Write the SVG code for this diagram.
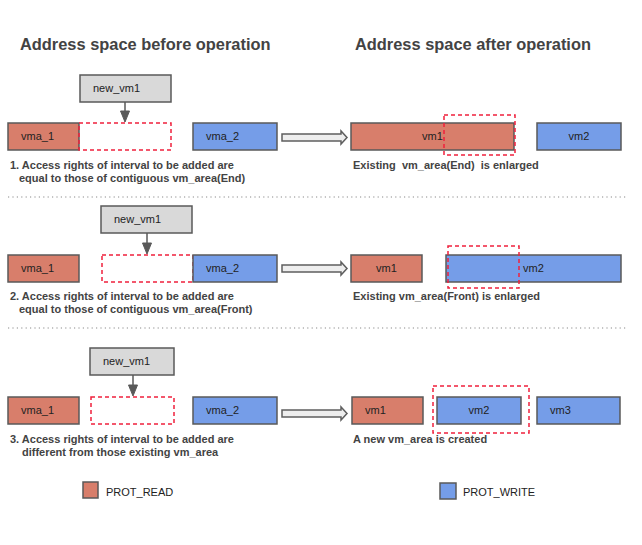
<svg xmlns="http://www.w3.org/2000/svg" width="642" height="545" viewBox="0 0 642 545">
<style>
text{font-family:"Liberation Sans",Arial,sans-serif}
.title{font-size:16.4px;font-weight:bold;fill:#434343}
.desc{font-size:11px;font-weight:bold;fill:#434343}
.lbl{font-size:11px;fill:#222}
.red{fill:#d87e6b;stroke:#595959;stroke-width:1.5}
.blue{fill:#759de8;stroke:#595959;stroke-width:1.5}
.gray{fill:#d9d9d9;stroke:#595959;stroke-width:1.5}
.dash{fill:none;stroke:#f0203c;stroke-width:1.5;stroke-dasharray:4,3}
.sep{stroke:#8a8a8a;stroke-width:1.2;stroke-dasharray:1.2,3.2}
.big{fill:#eeeeee;stroke:#5f5f5f;stroke-width:1.5}
.conn{stroke:#595959;stroke-width:1.5;fill:none}
.head{fill:#595959;stroke:#595959;stroke-width:1}
</style>
<rect width="642" height="545" fill="#ffffff"/>
<text class="title" x="20" y="50">Address space before operation</text>
<text class="title" x="355" y="50">Address space after operation</text>

<!-- Case 1 -->
<g id="c1-new"><rect class="gray" x="80" y="75" width="91" height="27"/><text class="lbl" x="93" y="92">new_vm1</text></g>
<g id="c1-vma1"><rect class="red" x="8" y="123" width="71" height="27"/><text class="lbl" x="21" y="140">vma_1</text></g>
<g id="c1-slot"><rect class="dash" x="79" y="123" width="92" height="27"/></g>
<g id="c1-vma2"><rect class="blue" x="193" y="123" width="84" height="27"/><text class="lbl" x="206" y="140">vma_2</text></g>
<text class="desc" x="10" y="169">1. Access rights of interval to be added are</text>
<text class="desc" x="19" y="182">equal to those of contiguous vm_area(End)</text>
<g id="c1-vm1"><rect class="red" x="351" y="123" width="163" height="27"/><text class="lbl" x="432.5" y="140" text-anchor="middle">vm1</text></g>
<g id="c1-vm2"><rect class="blue" x="537" y="123" width="84" height="27"/><text class="lbl" x="579" y="140" text-anchor="middle">vm2</text></g>
<g id="c1-new-area"><rect class="dash" x="444" y="115" width="71" height="40"/></g>
<text class="desc" x="353" y="169" xml:space="preserve">Existing  vm_area(End)  is enlarged</text>
<line class="sep" x1="8" y1="197" x2="626" y2="197"/>

<!-- Case 2 -->
<g id="c2-new"><rect class="gray" x="101" y="206" width="91" height="27"/><text class="lbl" x="114" y="223">new_vm1</text></g>
<g id="c2-vma1"><rect class="red" x="8" y="255" width="71" height="27"/><text class="lbl" x="21" y="272">vma_1</text></g>
<g id="c2-slot"><rect class="dash" x="102" y="255" width="91" height="27"/></g>
<g id="c2-vma2"><rect class="blue" x="193" y="255" width="84" height="27"/><text class="lbl" x="206" y="272">vma_2</text></g>
<text class="desc" x="10" y="300">2. Access rights of interval to be added are</text>
<text class="desc" x="19" y="313">equal to those of contiguous vm_area(Front)</text>
<g id="c2-vm1"><rect class="red" x="351" y="255" width="71" height="27"/><text class="lbl" x="386.5" y="272" text-anchor="middle">vm1</text></g>
<g id="c2-vm2"><rect class="blue" x="446" y="255" width="175" height="27"/><text class="lbl" x="533.5" y="272" text-anchor="middle">vm2</text></g>
<g id="c2-new-area"><rect class="dash" x="448" y="246" width="71" height="42"/></g>
<text class="desc" x="353" y="300">Existing vm_area(Front) is enlarged</text>
<line class="sep" x1="8" y1="328" x2="626" y2="328"/>

<!-- Case 3 -->
<g id="c3-new"><rect class="gray" x="90" y="348" width="84" height="27"/><text class="lbl" x="103" y="365">new_vm1</text></g>
<g id="c3-vma1"><rect class="red" x="8" y="397" width="71" height="27"/><text class="lbl" x="21" y="414">vma_1</text></g>
<g id="c3-slot"><rect class="dash" x="91" y="397" width="83" height="27"/></g>
<g id="c3-vma2"><rect class="blue" x="193" y="397" width="84" height="27"/><text class="lbl" x="206" y="414">vma_2</text></g>
<text class="desc" x="10" y="443">3. Access rights of interval to be added are</text>
<text class="desc" x="22" y="456">different from those existing vm_area</text>
<g id="c3-vm1"><rect class="red" x="352" y="397" width="71" height="27"/><text class="lbl" x="365" y="414">vm1</text></g>
<g id="c3-vm2"><rect class="blue" x="437" y="397" width="84" height="27"/><text class="lbl" x="479" y="414" text-anchor="middle">vm2</text></g>
<g id="c3-vm3"><rect class="blue" x="537" y="397" width="83" height="27"/><text class="lbl" x="550" y="414">vm3</text></g>
<g id="c3-new-area"><rect class="dash" x="433" y="386" width="96" height="47"/></g>
<text class="desc" x="353" y="443">A new vm_area is created</text>

<!-- Legend -->
<g id="legend-read"><rect class="red" x="83" y="482" width="15" height="16"/><text class="lbl" x="106" y="496">PROT_READ</text></g>
<g id="legend-write"><rect class="blue" x="440" y="483" width="16" height="16"/><text class="lbl" x="463" y="496">PROT_WRITE</text></g>

<!-- Connectors -->
<g id="connectors">
<line class="conn" x1="125" y1="102" x2="125" y2="112"/>
<polygon class="head" points="120.5,111 129.5,111 125,122"/>
<line class="conn" x1="147" y1="233" x2="147" y2="244"/>
<polygon class="head" points="142.5,243 151.5,243 147,254"/>
<line class="conn" x1="133" y1="375" x2="133" y2="386"/>
<polygon class="head" points="128.5,385 137.5,385 133,396"/>
<polygon class="big" points="282,134 341,134 341,131 347,137.5 341,144 341,141 282,141"/>
<polygon class="big" points="282,265 341,265 341,262 347,268.5 341,275 341,272 282,272"/>
<polygon class="big" points="282,410 341,410 341,407 347,413.5 341,420 341,417 282,417"/>
</g>
</svg>
